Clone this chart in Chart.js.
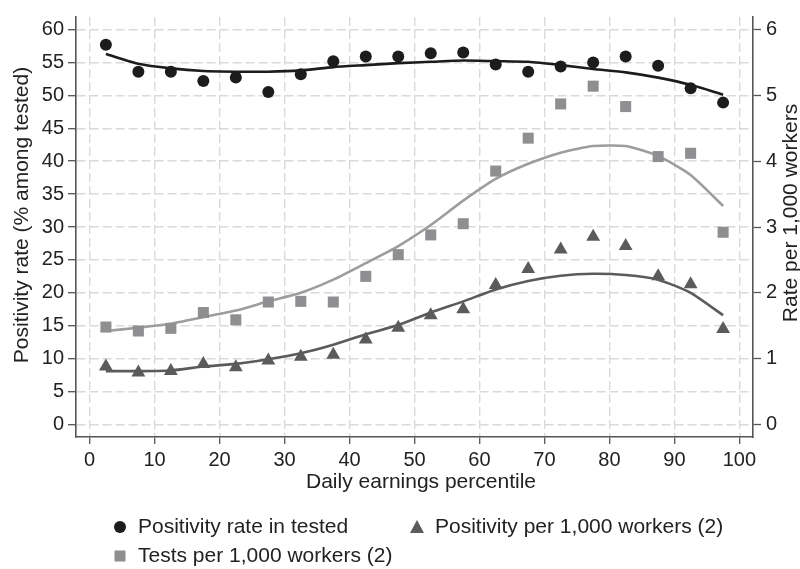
<!DOCTYPE html>
<html>
<head>
<meta charset="utf-8">
<script src="https://cdn.jsdelivr.net/npm/chart.js@4.4.1/dist/chart.umd.min.js"></script>
<style>
  html, body { margin: 0; padding: 0; background: #fff; }
  #wrap { width: 800px; height: 569px; }
</style>
</head>
<body>
<div id="wrap"><canvas id="earningsChart" width="800" height="569"></canvas></div>
<script>
const percentiles = [2.5, 7.5, 12.5, 17.5, 22.5, 27.5, 32.5, 37.5, 42.5, 47.5,
                     52.5, 57.5, 62.5, 67.5, 72.5, 77.5, 82.5, 87.5, 92.5, 97.5];

// positivity rate in tested, left axis (%)
const positivityRate = [57.7, 53.6, 53.6, 52.2, 52.7, 50.5, 53.2, 55.2, 55.9, 55.9,
                        56.4, 56.5, 54.7, 53.6, 54.4, 55.0, 55.9, 54.5, 51.1, 48.9];
const positivityRateFit = [56.3, 54.8, 54.1, 53.7, 53.6, 53.6, 53.8, 54.3, 54.6, 54.9,
                           55.1, 55.3, 55.2, 55.1, 54.6, 54.0, 53.5, 52.7, 51.6, 50.1];

// tests per 1,000 workers, right axis
const testsPer1000 = [1.48, 1.42, 1.46, 1.70, 1.59, 1.86, 1.87, 1.86, 2.25, 2.58,
                      2.88, 3.05, 3.85, 4.35, 4.87, 5.14, 4.83, 4.07, 4.12, 2.92];
const testsFit = [1.42, 1.47, 1.53, 1.63, 1.73, 1.87, 2.00, 2.20, 2.45, 2.71,
                  3.03, 3.40, 3.73, 3.96, 4.13, 4.23, 4.23, 4.08, 3.79, 3.32];

// positivity per 1,000 workers, right axis
const positivityPer1000 = [0.88, 0.79, 0.81, 0.92, 0.87, 0.97, 1.03, 1.06, 1.29, 1.47,
                           1.66, 1.75, 2.12, 2.36, 2.66, 2.85, 2.71, 2.25, 2.13, 1.45];
const positivityFit = [0.81, 0.81, 0.82, 0.88, 0.92, 0.99, 1.08, 1.21, 1.37, 1.51,
                       1.70, 1.87, 2.05, 2.18, 2.26, 2.29, 2.27, 2.20, 2.00, 1.66];

const xTicks = [0, 10, 20, 30, 40, 50, 60, 70, 80, 90, 100];
const yTicks = [0, 5, 10, 15, 20, 25, 30, 35, 40, 45, 50, 55, 60];
const y2Ticks = [0, 1, 2, 3, 4, 5, 6];

const xTitle = 'Daily earnings percentile';
const yTitle = 'Positivity rate (% among tested)';
const y2Title = 'Rate per 1,000 workers';

const FONT = "'Liberation Sans', Arial, Helvetica, sans-serif";
const BLACK = '#1c1c1c';
const LIGHT = '#8f8f91';
const LIGHT_LINE = '#9d9d9d';
const DARK = '#5b5b5b';
const GRID = '#dadada';

function pairs(ys) {
    return percentiles.map((x, i) => ({ x: x, y: ys[i] }));
}

function fixedTicks(values) {
    return function (scale) {
        scale.ticks = values.map(v => ({ value: v }));
    };
}

// titles and legend drawn by hand so they sit where the original puts them
const annotations = {
    id: 'annotations',
    afterDraw(chart) {
        const ctx = chart.ctx;
        ctx.save();
        ctx.fillStyle = '#222';
        ctx.font = '21px ' + FONT;
        ctx.textBaseline = 'middle';
        ctx.textAlign = 'center';

        ctx.save();
        ctx.translate(22, 215);
        ctx.rotate(-Math.PI / 2);
        ctx.fillText(yTitle, 0, 0);
        ctx.restore();

        ctx.save();
        ctx.translate(791, 213);
        ctx.rotate(-Math.PI / 2);
        ctx.fillText(y2Title, 0, 0);
        ctx.restore();

        ctx.fillText(xTitle, 421, 482);

        // legend
        const ds = chart.data.datasets;
        ctx.textAlign = 'left';
        ctx.fillStyle = BLACK;
        ctx.beginPath();
        ctx.arc(120, 527, 6, 0, Math.PI * 2);
        ctx.fill();
        ctx.fillStyle = '#222';
        ctx.fillText(ds[0].label, 138, 527);

        ctx.fillStyle = DARK;
        ctx.beginPath();
        ctx.moveTo(417, 520);
        ctx.lineTo(424, 533);
        ctx.lineTo(410, 533);
        ctx.closePath();
        ctx.fill();
        ctx.fillStyle = '#222';
        ctx.fillText(ds[2].label, 435, 527);

        ctx.fillStyle = LIGHT;
        ctx.fillRect(114.5, 550.5, 11, 11);
        ctx.fillStyle = '#222';
        ctx.fillText(ds[1].label, 138, 556);
        ctx.restore();
    }
};

const gridDash = [9, 4];

const ctxEarnings = document.getElementById('earningsChart').getContext('2d');
const earningsChart = new Chart(ctxEarnings, {
    type: 'scatter',
    data: {
        datasets: [
            {
                label: 'Positivity rate in tested',
                data: pairs(positivityRate),
                yAxisID: 'y',
                pointStyle: 'circle',
                pointRadius: 6,
                backgroundColor: BLACK,
                borderWidth: 0,
                showLine: false
            },
            {
                label: 'Tests per 1,000 workers (2)',
                data: pairs(testsPer1000),
                yAxisID: 'y2',
                pointStyle: 'rect',
                pointRadius: 7.8,
                backgroundColor: LIGHT,
                borderWidth: 0,
                showLine: false
            },
            {
                label: 'Positivity per 1,000 workers (2)',
                data: pairs(positivityPer1000),
                yAxisID: 'y2',
                pointStyle: 'triangle',
                pointRadius: 8,
                backgroundColor: DARK,
                borderWidth: 0,
                showLine: false
            },
            {
                label: 'fit positivity rate',
                data: pairs(positivityRateFit),
                yAxisID: 'y',
                showLine: true,
                pointRadius: 0,
                borderColor: BLACK,
                borderWidth: 2.6,
                tension: 0.2
            },
            {
                label: 'fit tests',
                data: pairs(testsFit),
                yAxisID: 'y2',
                showLine: true,
                pointRadius: 0,
                borderColor: LIGHT_LINE,
                borderWidth: 2.6,
                tension: 0.2
            },
            {
                label: 'fit positivity per 1,000',
                data: pairs(positivityFit),
                yAxisID: 'y2',
                showLine: true,
                pointRadius: 0,
                borderColor: DARK,
                borderWidth: 2.6,
                tension: 0.2
            }
        ]
    },
    options: {
        responsive: false,
        animation: false,
        layout: {
            padding: { top: 13, left: 0, right: 0, bottom: 0 }
        },
        plugins: {
            legend: { display: false },
            tooltip: { enabled: false }
        },
        scales: {
            x: {
                type: 'linear',
                min: -2.1,
                max: 102.1,
                afterBuildTicks: fixedTicks(xTicks),
                afterFit: function (scale) { scale.height = 132; },
                grid: {
                    color: GRID,
                    lineWidth: 1.4,
                    tickLength: 7,
                    tickColor: '#555',
                    tickWidth: 1.3
                },
                border: { display: true, color: '#555', width: 1.6, dash: gridDash },
                ticks: {
                    padding: 4,
                    color: '#222',
                    font: { family: FONT, size: 20 }
                }
            },
            y: {
                position: 'left',
                min: -1.91,
                max: 61.91,
                afterBuildTicks: fixedTicks(yTicks),
                afterFit: function (scale) { scale.width = 76; },
                grid: {
                    color: GRID,
                    lineWidth: 1.4,
                    tickLength: 8,
                    tickColor: '#555',
                    tickWidth: 1.3
                },
                border: { display: true, color: '#555', width: 1.6, dash: gridDash },
                ticks: {
                    padding: 4,
                    color: '#222',
                    font: { family: FONT, size: 20 }
                }
            },
            y2: {
                position: 'right',
                min: -0.191,
                max: 6.191,
                afterBuildTicks: fixedTicks(y2Ticks),
                afterFit: function (scale) { scale.width = 47; },
                grid: {
                    drawOnChartArea: false,
                    tickLength: 8,
                    tickColor: '#555',
                    tickWidth: 1.3
                },
                border: { display: true, color: '#555', width: 1.6 },
                ticks: {
                    padding: 5,
                    color: '#222',
                    font: { family: FONT, size: 20 }
                }
            }
        }
    },
    plugins: [annotations]
});
</script>
</body>
</html>
